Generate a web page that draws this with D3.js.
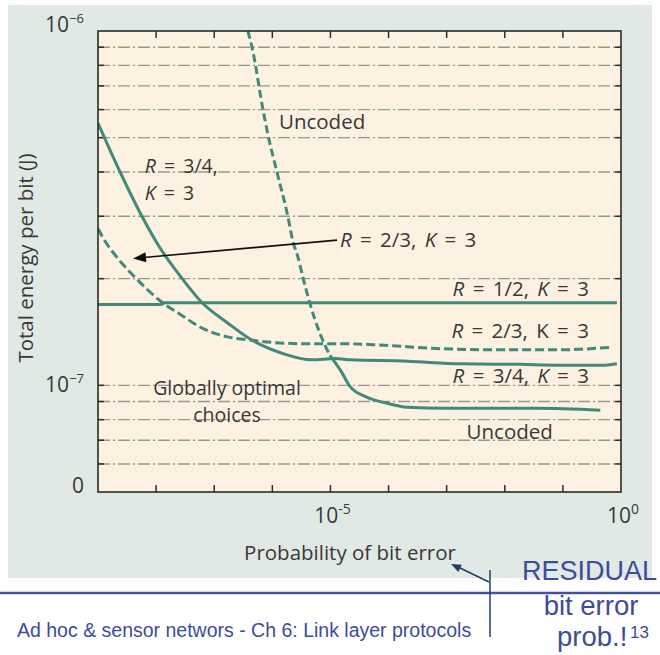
<!DOCTYPE html>
<html>
<head>
<meta charset="utf-8">
<script src="https://cdn.jsdelivr.net/npm/d3@7"></script>
<style>
  body { margin: 0; background: #fff; }
  svg { display: block; }
</style>
</head>
<body>
<script>
// values: bit error probability (x) vs total energy per bit in J (y)
const r34Ber = [1e-9, 2.4e-9, 5.7e-9, 1.17e-8, 2.4e-8, 6.2e-8, 1.7e-7, 4.5e-7, 1.5e-6, 4.8e-6, 1.2e-5, 2.2e-5, 2.1e-4, 1.7e-3, 1.8e-2, 8.9e-2, 0.53, 0.85];
const r34Energy = [5.5e-7, 4.0e-7, 3.0e-7, 2.44e-7, 2.07e-7, 1.71e-7, 1.50e-7, 1.34e-7, 1.23e-7, 1.18e-7, 1.19e-7, 1.18e-7, 1.17e-7, 1.15e-7, 1.146e-7, 1.14e-7, 1.14e-7, 1.15e-7];

const r23Ber = [1e-9, 1.2e-9, 2.2e-9, 4.3e-9, 1.3e-8, 2.4e-8, 6.2e-8, 1.7e-7, 4.5e-7, 1.1e-6, 4.1e-6, 1.8e-5, 7.1e-5, 6.8e-4, 8.3e-3, 8.9e-2, 0.65];
const r23Energy = [2.77e-7, 2.62e-7, 2.28e-7, 2.02e-7, 1.71e-7, 1.60e-7, 1.45e-7, 1.37e-7, 1.34e-7, 1.32e-7, 1.31e-7, 1.31e-7, 1.30e-7, 1.27e-7, 1.26e-7, 1.26e-7, 1.28e-7];

const r12Ber = [1e-9, 1.2e-8, 1.4e-8, 0.85];
const r12Energy = [1.69e-7, 1.69e-7, 1.71e-7, 1.71e-7];

// uncoded: steep dashed part, then the solid floor
const uncodedBer = [3.8e-7, 4.6e-7, 6.9e-7, 8.4e-7, 1.2e-6, 1.8e-6, 2.3e-6, 2.7e-6, 3.4e-6, 4.4e-6, 6.6e-6, 9.8e-6];
const uncodedEnergy = [1e-6, 8.8e-7, 6.0e-7, 5.1e-7, 4.0e-7, 3.06e-7, 2.52e-7, 2.33e-7, 2.0e-7, 1.71e-7, 1.40e-7, 1.215e-7];
const uncodedFloorBer = [9.8e-6, 1.5e-5, 2.2e-5, 4.3e-5, 9.4e-5, 2.1e-4, 1.0e-3, 3.6e-2, 0.44];
const uncodedFloorEnergy = [1.215e-7, 1.10e-7, 9.9e-8, 9.25e-8, 8.9e-8, 8.67e-8, 8.61e-8, 8.61e-8, 8.5e-8];

const gridEnergy = [6e-8, 7e-8, 8e-8, 9e-8, 1e-7, 2e-7, 3e-7, 4e-7, 5e-7, 6e-7, 7e-7, 8e-7, 9e-7];
const xTickBer = [1e-8, 1e-7, 1e-6, 1e-5, 1e-4, 1e-3, 1e-2, 1e-1];

const yLabelValues = [1e-6, 1e-7, 5e-8];
const yLabelBase = ["10", "10", "0"];
const yLabelExp = ["\u22126", "\u22127", ""];
const xLabelValues = [1e-5, 1];
const xLabelExp = ["-5", "0"];

const W = 660, H = 655;
const teal = "#418a79";
const ink = "#383838";
const navy = "#3d4c9b";
const font = "'Open Sans', sans-serif";

const svg = d3.select("body").append("svg")
  .attr("width", W)
  .attr("height", H);

// gray panel behind the figure
svg.append("rect")
  .attr("x", 8).attr("y", 5)
  .attr("width", 644).attr("height", 573)
  .attr("fill", "#e1e9e5");

const x = d3.scaleLog().domain([1e-9, 1]).range([98, 621]);
const y = d3.scaleLog().domain([5e-8, 1e-6]).range([492, 31]);
const [x0, x1] = x.range();
const [y0, y1] = y.range();

svg.append("rect")
  .attr("x", x0).attr("y", y1)
  .attr("width", x1 - x0).attr("height", y0 - y1)
  .attr("fill", "#fdf1e2");

// dash-dot grid
svg.append("g").selectAll("line")
  .data(gridEnergy)
  .join("line")
  .attr("x1", x0).attr("x2", x1)
  .attr("y1", d => y(d)).attr("y2", d => y(d))
  .attr("stroke", "#9b968f")
  .attr("stroke-width", 1.4)
  .attr("stroke-dasharray", "12,3,2,3");

// inward ticks on the four sides
const ticks = svg.append("g").attr("stroke", "#2d2d2d").attr("stroke-width", 1.5);
gridEnergy.forEach(d => {
  ticks.append("line").attr("x1", x0).attr("x2", x0 + 6).attr("y1", y(d)).attr("y2", y(d));
  ticks.append("line").attr("x1", x1 - 6).attr("x2", x1).attr("y1", y(d)).attr("y2", y(d));
});
xTickBer.forEach(d => {
  ticks.append("line").attr("x1", x(d)).attr("x2", x(d)).attr("y1", y0).attr("y2", y0 - 7);
  ticks.append("line").attr("x1", x(d)).attr("x2", x(d)).attr("y1", y1).attr("y2", y1 + 7);
});

// curves
svg.append("clipPath").attr("id", "plot")
  .append("rect").attr("x", x0).attr("y", y1).attr("width", x1 - x0).attr("height", y0 - y1);

const curves = svg.append("g").attr("clip-path", "url(#plot)");
const smooth = d3.line().x(d => x(d[0])).y(d => y(d[1])).curve(d3.curveMonotoneX);
const straight = d3.line().x(d => x(d[0])).y(d => y(d[1]));

function drawSeries(bers, energies, gen, dash) {
  curves.append("path")
    .datum(d3.zip(bers, energies))
    .attr("d", gen)
    .attr("fill", "none")
    .attr("stroke", teal)
    .attr("stroke-width", 3)
    .attr("stroke-dasharray", dash);
}

drawSeries(r12Ber, r12Energy, straight, null);
drawSeries(r23Ber, r23Energy, smooth, "9,4");
drawSeries(r34Ber, r34Energy, smooth, null);
drawSeries(uncodedBer, uncodedEnergy, smooth, "8,4");
drawSeries(uncodedFloorBer, uncodedFloorEnergy, smooth, null);

// labels inside the plot (positions in data units), one text per label, one entry per line
const labels = [
  { anchor: "start", size: 20.5, lines: [{ ber: 1.3e-6, e: 5.28e-7, parts: [["Uncoded", 0]] }] },
  { anchor: "start", size: 19.5, lines: [
    { ber: 6.4e-9, e: 3.97e-7, parts: [["R", 1], [" = 3/4,", 0]] },
    { ber: 6.4e-9, e: 3.33e-7, parts: [["K", 1], [" = 3", 0]] }
  ] },
  { anchor: "start", size: 20.5, lines: [{ ber: 1.46e-5, e: 2.45e-7, parts: [["R", 1], [" = 2/3, ", 0], ["K", 1], [" = 3", 0]] }] },
  { anchor: "end", size: 20.5, lines: [{ ber: 0.28, e: 1.79e-7, parts: [["R", 1], [" = 1/2, ", 0], ["K", 1], [" = 3", 0]] }] },
  { anchor: "end", size: 20.5, lines: [{ ber: 0.28, e: 1.357e-7, parts: [["R", 1], [" = 2/3, K = 3", 0]] }] },
  { anchor: "end", size: 20.5, lines: [{ ber: 0.28, e: 1.013e-7, parts: [["R", 1], [" = 3/4, ", 0], ["K", 1], [" = 3", 0]] }] },
  { anchor: "start", size: 20.5, lines: [{ ber: 2.2e-3, e: 7.04e-8, parts: [["Uncoded", 0]] }] },
  { anchor: "middle", size: 19.5, lines: [
    { ber: 1.66e-7, e: 9.37e-8, parts: [["Globally optimal", 0]] },
    { ber: 1.66e-7, e: 7.86e-8, parts: [["choices", 0]] }
  ] }
];

labels.forEach(l => {
  const t = svg.append("text")
    .attr("text-anchor", l.anchor)
    .attr("font-family", font)
    .attr("font-size", l.size)
    .attr("fill", ink)
    .attr("xml:space", "preserve");
  l.lines.forEach(line => {
    line.parts.forEach((p, j) => {
      const s = t.append("tspan")
        .text(p[0])
        .attr("font-style", p[1] ? "italic" : "normal")
        .attr("word-spacing", line.parts.length > 1 ? 3 : 0);
      if (j === 0) s.attr("x", x(line.ber)).attr("y", y(line.e));
    });
  });
});

// arrow to the R = 2/3 curve
const arrowFrom = [1.3e-5, 2.57e-7];
const arrowTo = [4.0e-9, 2.28e-7];
const ax0 = x(arrowFrom[0]), ay0 = y(arrowFrom[1]);
const ax1 = x(arrowTo[0]), ay1 = y(arrowTo[1]);
const ang = Math.atan2(ay0 - ay1, ax0 - ax1);
svg.append("line")
  .attr("x1", ax0).attr("y1", ay0)
  .attr("x2", ax1 + 8 * Math.cos(ang)).attr("y2", ay1 + 8 * Math.sin(ang))
  .attr("stroke", "#111").attr("stroke-width", 1.6);
svg.append("path")
  .attr("d", d3.line()([[0, 0], [13, -5], [13, 5]]) + "Z")
  .attr("transform", `translate(${ax1},${ay1}) rotate(${ang * 180 / Math.PI})`)
  .attr("fill", "#111");

// frame
svg.append("rect")
  .attr("x", x0).attr("y", y1)
  .attr("width", x1 - x0).attr("height", y0 - y1)
  .attr("fill", "none")
  .attr("stroke", "#2b2b2b")
  .attr("stroke-width", 1.6);

// y tick labels
const yOff = [1, 7, 1];
yLabelValues.forEach((v, i) => {
  const t = svg.append("text")
    .attr("x", 84).attr("y", y(v) + yOff[i])
    .attr("text-anchor", "end")
    .attr("font-family", font).attr("font-size", 21).attr("fill", ink);
  t.append("tspan").text(yLabelBase[i]);
  if (yLabelExp[i]) {
    t.append("tspan").text(yLabelExp[i]).attr("font-size", 13).attr("dy", -9);
  }
});

// x tick labels
xLabelValues.forEach((v, i) => {
  const t = svg.append("text")
    .attr("x", x(v) + 2).attr("y", 523)
    .attr("text-anchor", "middle")
    .attr("font-family", font).attr("font-size", 21).attr("fill", ink);
  t.append("tspan").text("10");
  t.append("tspan").text(xLabelExp[i]).attr("font-size", 14).attr("dy", -9);
});

// axis titles
svg.append("text")
  .attr("transform", "translate(33,258) rotate(-90)")
  .attr("text-anchor", "middle")
  .attr("font-family", font).attr("font-size", 20.5).attr("fill", ink)
  .text("Total energy per bit (J)");
svg.append("text")
  .attr("x", 350).attr("y", 560)
  .attr("text-anchor", "middle")
  .attr("font-family", font).attr("font-size", 20.5).attr("fill", ink)
  .text("Probability of bit error");

// slide footer
svg.append("line")
  .attr("x1", 0).attr("x2", W).attr("y1", 593).attr("y2", 593)
  .attr("stroke", "#45539a").attr("stroke-width", 2.5);
svg.append("text")
  .attr("x", 17).attr("y", 637)
  .attr("font-family", "'Liberation Sans', Arial, sans-serif").attr("font-size", 19.5)
  .attr("fill", navy)
  .text("Ad hoc & sensor networs - Ch 6: Link layer protocols");

const note = svg.append("g")
  .attr("font-family", "'Liberation Sans', Arial, sans-serif")
  .attr("fill", navy);
note.append("text").attr("x", 522).attr("y", 580).attr("font-size", 27).text("RESIDUAL");
note.append("text").attr("x", 591).attr("y", 615).attr("text-anchor", "middle").attr("font-size", 27.5).text("bit error");
note.append("text").attr("x", 557).attr("y", 646).attr("font-size", 27.5).text("prob.!");
note.append("text").attr("x", 630).attr("y", 638).attr("font-size", 17).text("13");

// pointer from the note to the axis title
svg.append("line")
  .attr("x1", 490).attr("x2", 490).attr("y1", 570).attr("y2", 637)
  .attr("stroke", "#1f3b6e").attr("stroke-width", 1.5);
svg.append("line")
  .attr("x1", 489).attr("y1", 582).attr("x2", 458).attr("y2", 567)
  .attr("stroke", "#1f3b6e").attr("stroke-width", 1.5);
svg.append("path")
  .attr("d", d3.line()([[0, 0], [10, -4], [10, 4]]) + "Z")
  .attr("transform", `translate(451,564) rotate(${Math.atan2(18, 38) * 180 / Math.PI})`)
  .attr("fill", "#1f3b6e");
</script>
</body>
</html>
